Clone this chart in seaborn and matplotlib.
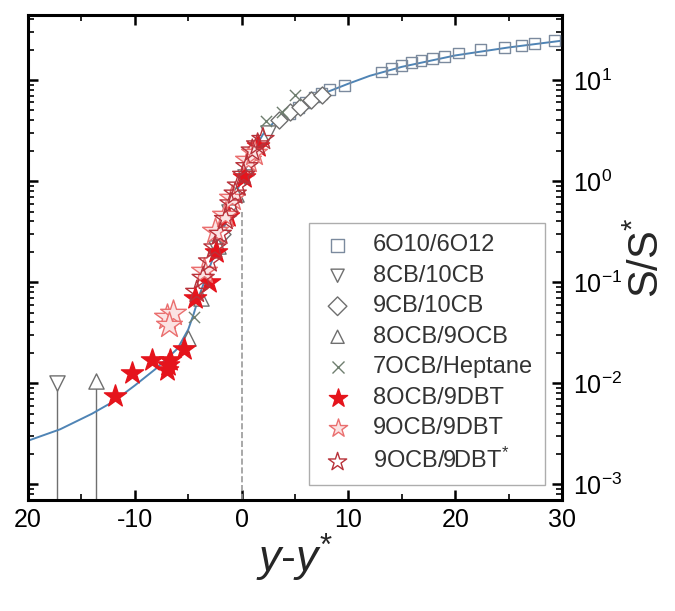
import numpy as np
import matplotlib
matplotlib.use("Agg")
import matplotlib.pyplot as plt
import seaborn as sns
from matplotlib.ticker import LogLocator, LogFormatterSciNotation, FixedLocator, MultipleLocator

sns.set_theme(style="ticks")
plt.rcParams['font.family'] = ['Liberation Sans', 'DejaVu Sans']
plt.rcParams['mathtext.fontset'] = 'custom'
plt.rcParams['mathtext.rm'] = 'Liberation Sans'
plt.rcParams['mathtext.it'] = 'Liberation Sans:italic'
plt.rcParams['axes.unicode_minus'] = False

# fitted scaling curve
fit_x = [-20, -17, -14, -12, -10, -8, -6, -5, -4.5, -4, -3, -2, -1, 0, 1, 2, 3, 4, 5,
         6, 7, 8, 10, 12, 15, 20, 25, 30]
fit_y = [0.0027, 0.0035, 0.0050, 0.0066, 0.0095, 0.014, 0.022, 0.034, 0.048, 0.072, 0.14,
         0.27, 0.55, 1.05, 1.9, 2.9, 3.8, 4.6, 5.3, 6.0, 6.8, 7.6, 9.2, 11.0, 13.5, 17.5,
         21.0, 24.5]

# data series
sq_x = [-2.0, 4.5, 5.3, 6.0, 6.8, 7.5, 8.2, 9.6, 13.1, 14.0, 15.0, 15.9, 16.8, 17.9, 19.0,
        20.3, 22.4, 24.6, 26.2, 27.4, 29.3]
sq_y = [0.30, 4.6, 5.3, 6.0, 6.8, 7.4, 8.0, 8.9, 12.0, 13.0, 14.0, 14.8, 15.5, 16.3, 17.2,
        18.5, 20.0, 21.0, 22.0, 23.0, 24.5]

dtri_x = [-17.3, -2.4, -1.2, 0.3, 2.5]
dtri_y = [0.0100, 0.22, 0.50, 1.1, 3.0]

dia_x = [-1.8, 3.5, 4.5, 5.5, 6.5, 7.5]
dia_y = [0.30, 4.0, 4.8, 5.4, 6.3, 7.1]

utri_x = [-13.6, -5.0, -3.8, -2.2, -0.5]
utri_y = [0.0105, 0.028, 0.07, 0.23, 0.75]

cross_x = [-4.5, -3.2, 2.3, 3.8, 5.0]
cross_y = [0.045, 0.12, 3.9, 4.8, 7.1]

fstar_x = [-11.9, -10.3, -8.4, -7.0, -6.7, -6.9, -5.4, -4.4, -3.1, -2.4, -1.3, 0.2, 1.5]
fstar_y = [0.0074, 0.0125, 0.017, 0.0135, 0.017, 0.015, 0.022, 0.07, 0.10, 0.20, 0.45,
           1.1, 2.2]

ostar_x = [-7.0, -6.4, -6.8, -3.5, -2.5, -1.6, -0.9, 0.6, 1.2]
ostar_y = [0.045, 0.050, 0.038, 0.13, 0.32, 0.46, 0.68, 1.6, 1.9]

dstar_x = [-4.2, -3.6, -3.0, -2.5, -2.0, -1.5, -1.0, -0.6, -0.3, 0.2, 0.5, 1.0, 1.5, 2.0]
dstar_y = [0.08, 0.11, 0.16, 0.22, 0.30, 0.42, 0.60, 0.75, 0.90, 1.15, 1.4, 2.0, 2.3, 2.6]

labels = ['6O10/6O12', '8CB/10CB', '9CB/10CB', '8OCB/9OCB', '7OCB/Heptane',
          '8OCB/9DBT', '9OCB/9DBT', r'9OCB/9DBT$^{*}$']

y_lo, y_hi = 7e-4, 44

fig = plt.figure(figsize=(6.75, 6.11), dpi=100)
ax = fig.add_axes([0.0415, 0.1817, 0.7911, 0.7938])

gray = '#6f6f6f'
ax.vlines(dtri_x[:1], y_lo, dtri_y[:1], color=gray, lw=1.0, zorder=1)
ax.vlines(utri_x[:1], y_lo, utri_y[:1], color=gray, lw=1.0, zorder=1)
ax.plot([0, 0], [y_lo, 0.5], ls='--', color='#9a9a9a', lw=1.2, zorder=1)

sns.lineplot(x=fit_x, y=fit_y, ax=ax, color='#4f84b5', lw=1.4, zorder=2, sort=False)

handles = []
kw = dict(ax=ax, legend=False, linewidth=1.0, zorder=3)
specs = [
    (sq_x, sq_y, 's', '#7b8a9e', 'none', 60),
    (dtri_x, dtri_y, 'v', gray, 'white', 120),
    (dia_x, dia_y, 'D', gray, 'white', 75),
    (utri_x, utri_y, '^', gray, 'white', 120),
    (cross_x, cross_y, 'x', '#6f7f6f', None, 65),
    (fstar_x, fstar_y, '*', '#e5141c', '#e5141c', 280),
    (ostar_x, ostar_y, '*', '#ea6f6f', '#fbe3e3', 380),
    (dstar_x, dstar_y, '*', '#b8323a', 'none', 280),
]
for (xs, ys, m, ec, fc, s), lab in zip(specs, labels):
    if m == 'x':
        sns.scatterplot(x=xs, y=ys, marker=m, color=ec, s=s, **kw)
        h = ax.scatter([], [], marker=m, color=ec, s=75, linewidths=1.0)
    else:
        sns.scatterplot(x=xs, y=ys, marker=m, facecolor=fc, edgecolor=ec, s=s, **kw)
        h = ax.scatter([], [], marker=m, facecolor=fc if fc != 'white' else 'none',
                       edgecolor=ec, s=190 if m == '*' else 90, linewidths=1.0)
    handles.append(h)

ax.set_yscale('log')
ax.set_xlim(-20, 30)
ax.set_ylim(y_lo, y_hi)

ax.xaxis.set_major_locator(FixedLocator([-20, -10, 0, 10, 20, 30]))
ax.set_xticklabels(['20', '-10', '0', '10', '20', '30'])
ax.xaxis.set_minor_locator(MultipleLocator(5))
ax.yaxis.set_major_locator(LogLocator(base=10, numticks=10))
ax.yaxis.set_minor_locator(LogLocator(base=10, subs=np.arange(2, 10), numticks=20))
ax.yaxis.set_major_formatter(LogFormatterSciNotation())
ax.yaxis.tick_right()
ax.yaxis.set_label_position('right')
ax.tick_params(which='both', direction='in', top=True, bottom=True, left=True, right=True,
               labelleft=False, labelright=True, colors='black')
ax.tick_params(which='major', length=7, width=1.8, labelsize=18)
ax.tick_params(which='minor', length=4, width=1.2)
ax.tick_params(axis='y', which='major', pad=8)
ax.tick_params(axis='x', which='major', pad=6)
for sp in ax.spines.values():
    sp.set_linewidth(2.2)
    sp.set_color('black')

ax.set_xlabel(r'$y$-$y^{*}$', fontsize=32, labelpad=0)
ax.set_ylabel(r'S/S$^{*}$', fontsize=30, rotation=90, labelpad=4)

leg = ax.legend(handles, labels, loc='lower right', bbox_to_anchor=(0.968, 0.031),
                fontsize=17, frameon=True, fancybox=False, edgecolor='#999999',
                labelspacing=0.36, handletextpad=0.8, borderpad=0.5, handlelength=1.4,
                borderaxespad=0)
leg.get_frame().set_linewidth(1.0)
for t in leg.get_texts():
    t.set_color('#333333')

fig.savefig('out.png', dpi=100)
